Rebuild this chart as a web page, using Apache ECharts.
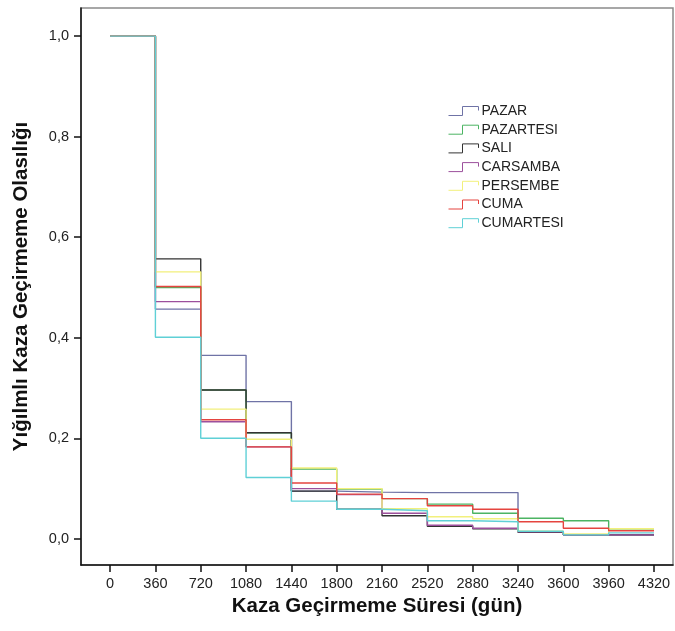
<!DOCTYPE html>
<html><head><meta charset="utf-8">
<script src="https://cdn.jsdelivr.net/npm/echarts@6/dist/echarts.min.js"></script>
<style>html,body{margin:0;padding:0;background:#fff}#c{width:675px;height:631px}</style>
</head><body><div id="c"></div>
<script>
// Time points (days)
const times = [0, 360, 720, 1080, 1440, 1800, 2160, 2520, 2880, 3240, 3600, 3960, 4320];
const xTicks = [0, 360, 720, 1080, 1440, 1800, 2160, 2520, 2880, 3240, 3600, 3960, 4320];
const yTicks = [0, 0.2, 0.4, 0.6, 0.8, 1.0];
const seriesNames = ['PAZAR', 'PAZARTESI', 'SALI', 'CARSAMBA', 'PERSEMBE', 'CUMA', 'CUMARTESI'];
// Survival value held from each time point until the next
const pazar     = [1.0, 0.457, 0.365, 0.273, 0.095, 0.093, 0.092, 0.092, 0.092, 0.014, 0.008, 0.008, 0.008];
const pazartesi = [1.0, 0.500, 0.296, 0.211, 0.139, 0.099, 0.080, 0.069, 0.051, 0.041, 0.036, 0.020, 0.020];
const sali      = [1.0, 0.557, 0.296, 0.211, 0.095, 0.059, 0.046, 0.025, 0.020, 0.013, 0.008, 0.008, 0.008];
const carsamba  = [1.0, 0.472, 0.233, 0.183, 0.100, 0.088, 0.051, 0.027, 0.021, 0.014, 0.008, 0.008, 0.008];
const persembe  = [1.0, 0.531, 0.258, 0.198, 0.141, 0.100, 0.060, 0.044, 0.040, 0.015, 0.010, 0.020, 0.020];
const cuma      = [1.0, 0.502, 0.237, 0.183, 0.111, 0.089, 0.080, 0.066, 0.059, 0.034, 0.021, 0.016, 0.016];
const cumartesi = [1.0, 0.401, 0.200, 0.122, 0.075, 0.059, 0.056, 0.036, 0.034, 0.015, 0.008, 0.012, 0.012];
const colors = ['#6f73a6', '#4cb463', '#333333', '#9c509c', '#f2f07c', '#e5443f', '#5fd0d6'];
const allValues = [pazar, pazartesi, sali, carsamba, persembe, cuma, cumartesi];

const iconPath = 'path://M0,9 L14,9 L14,0 L30,0 L30,4';

const chart = echarts.init(document.getElementById('c'), null, {renderer: 'canvas'});
chart.setOption({
  animation: false,
  backgroundColor: '#fff',
  textStyle: {fontFamily: 'Liberation Sans, Arial, sans-serif'},
  grid: {left: 81, top: 8, right: 2, bottom: 66, show: true, borderColor: '#8a8a8a', borderWidth: 1.5, containLabel: false},
  legend: {
    orient: 'vertical', left: 443, top: 99, itemGap: 4.7, itemWidth: 30, itemHeight: 9,
    textStyle: {fontSize: 14, lineHeight: 14, color: '#222', padding: [0, 0, 0, -2]},
    data: seriesNames.map((n, i) => ({name: n, icon: iconPath,
      itemStyle: {color: 'transparent', borderColor: colors[i], borderWidth: 1}}))
  },
  xAxis: {
    type: 'value', min: -231, max: 4471,
    name: 'Kaza Geçirmeme Süresi (gün)', nameLocation: 'middle', nameGap: 30,
    nameTextStyle: {fontSize: 20.5, fontWeight: 'bold', color: '#111'},
    axisLine: {onZero: false, lineStyle: {color: '#111', width: 1.5}},
    axisTick: {customValues: xTicks, length: 7, lineStyle: {color: '#111', width: 1.5}},
    axisLabel: {customValues: xTicks, fontSize: 14.5, color: '#222', margin: 11,
      formatter: v => String(Math.round(v))},
    splitLine: {show: false}
  },
  yAxis: {
    type: 'value', min: -0.052, max: 1.056,
    name: 'Yığılmlı Kaza Geçirmeme Olasılığı', nameLocation: 'middle', nameGap: 49, nameRotate: 90,
    nameTextStyle: {fontSize: 20.5, fontWeight: 'bold', color: '#111'},
    axisLine: {onZero: false, lineStyle: {color: '#111', width: 1.5}},
    axisTick: {customValues: yTicks, length: 7, lineStyle: {color: '#111', width: 1.5}},
    axisLabel: {customValues: yTicks, fontSize: 14.5, color: '#222', margin: 12,
      formatter: v => v.toFixed(1).replace('.', ',')},
    splitLine: {show: false}
  },
  series: seriesNames.map((n, i) => ({
    name: n, type: 'line', step: 'end', showSymbol: false, symbol: 'none',
    color: colors[i],
    lineStyle: {width: 1.4, color: colors[i]},
    data: times.map((t, k) => [t, allValues[i][k]])
  }))
});
</script></body></html>
